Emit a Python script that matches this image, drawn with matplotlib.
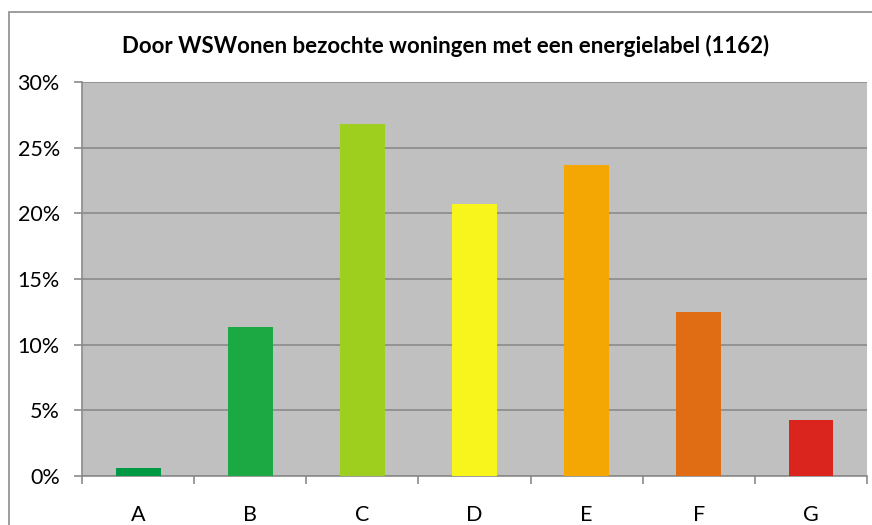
import matplotlib.pyplot as plt
from matplotlib.patches import Rectangle
import numpy as np

# Energielabels van de bezochte woningen
labels = ['A', 'B', 'C', 'D', 'E', 'F', 'G']
percentages = [0.6, 11.35, 26.8, 20.7, 23.7, 12.5, 4.3]
colors = ['#009a44', '#1ca843', '#9fcf1e', '#f8f51c', '#f4a602', '#e06c14', '#da251e']

plt.rcParams['font.family'] = ['Lato', 'DejaVu Sans']

fig = plt.figure(figsize=(8.72, 5.25), dpi=100)
ax = fig.add_axes([82 / 872, 1 - 476 / 525, 785 / 872, 394 / 525])

# rand om de hele grafiek
fig.patches.append(Rectangle((9 / 872, -0.1), 1.2, 1 - 12 / 525 + 0.1, transform=fig.transFigure,
                             fill=False, edgecolor='#8c8c8c', linewidth=1.2))

x = np.arange(len(labels))
ax.bar(x, percentages, width=0.4, color=colors, zorder=3)

ax.set_facecolor('#c0c0c0')
ax.set_xlim(-0.5, len(labels) - 0.5)
ax.set_ylim(0, 30)
ax.set_yticks(range(0, 31, 5))
ax.set_yticklabels([f'{v}%' for v in range(0, 31, 5)], fontsize=15.5)
ax.yaxis.grid(True, color='#8a8a8a', linewidth=1.2, zorder=1)

ax.set_xticks(x)
ax.set_xticklabels(labels, fontsize=15.5)
ax.set_xticks(np.arange(-0.5, len(labels), 1), minor=True)
ax.tick_params(axis='x', which='major', length=0, pad=21)
ax.tick_params(axis='x', which='minor', length=6, color='#8a8a8a', width=1.2)
ax.tick_params(axis='y', length=6, color='#8a8a8a', width=1.2, pad=10)

for s in ['top', 'right']:
    ax.spines[s].set_visible(False)
for s in ['left', 'bottom']:
    ax.spines[s].set_color('#8a8a8a')
    ax.spines[s].set_linewidth(1.2)

fig.text(446 / 872, 1 - 46 / 525, 'Door WSWonen bezochte woningen met een energielabel (1162)',
         ha='center', va='center', fontsize=16, fontweight='bold')

fig.savefig('out.png', dpi=100)
